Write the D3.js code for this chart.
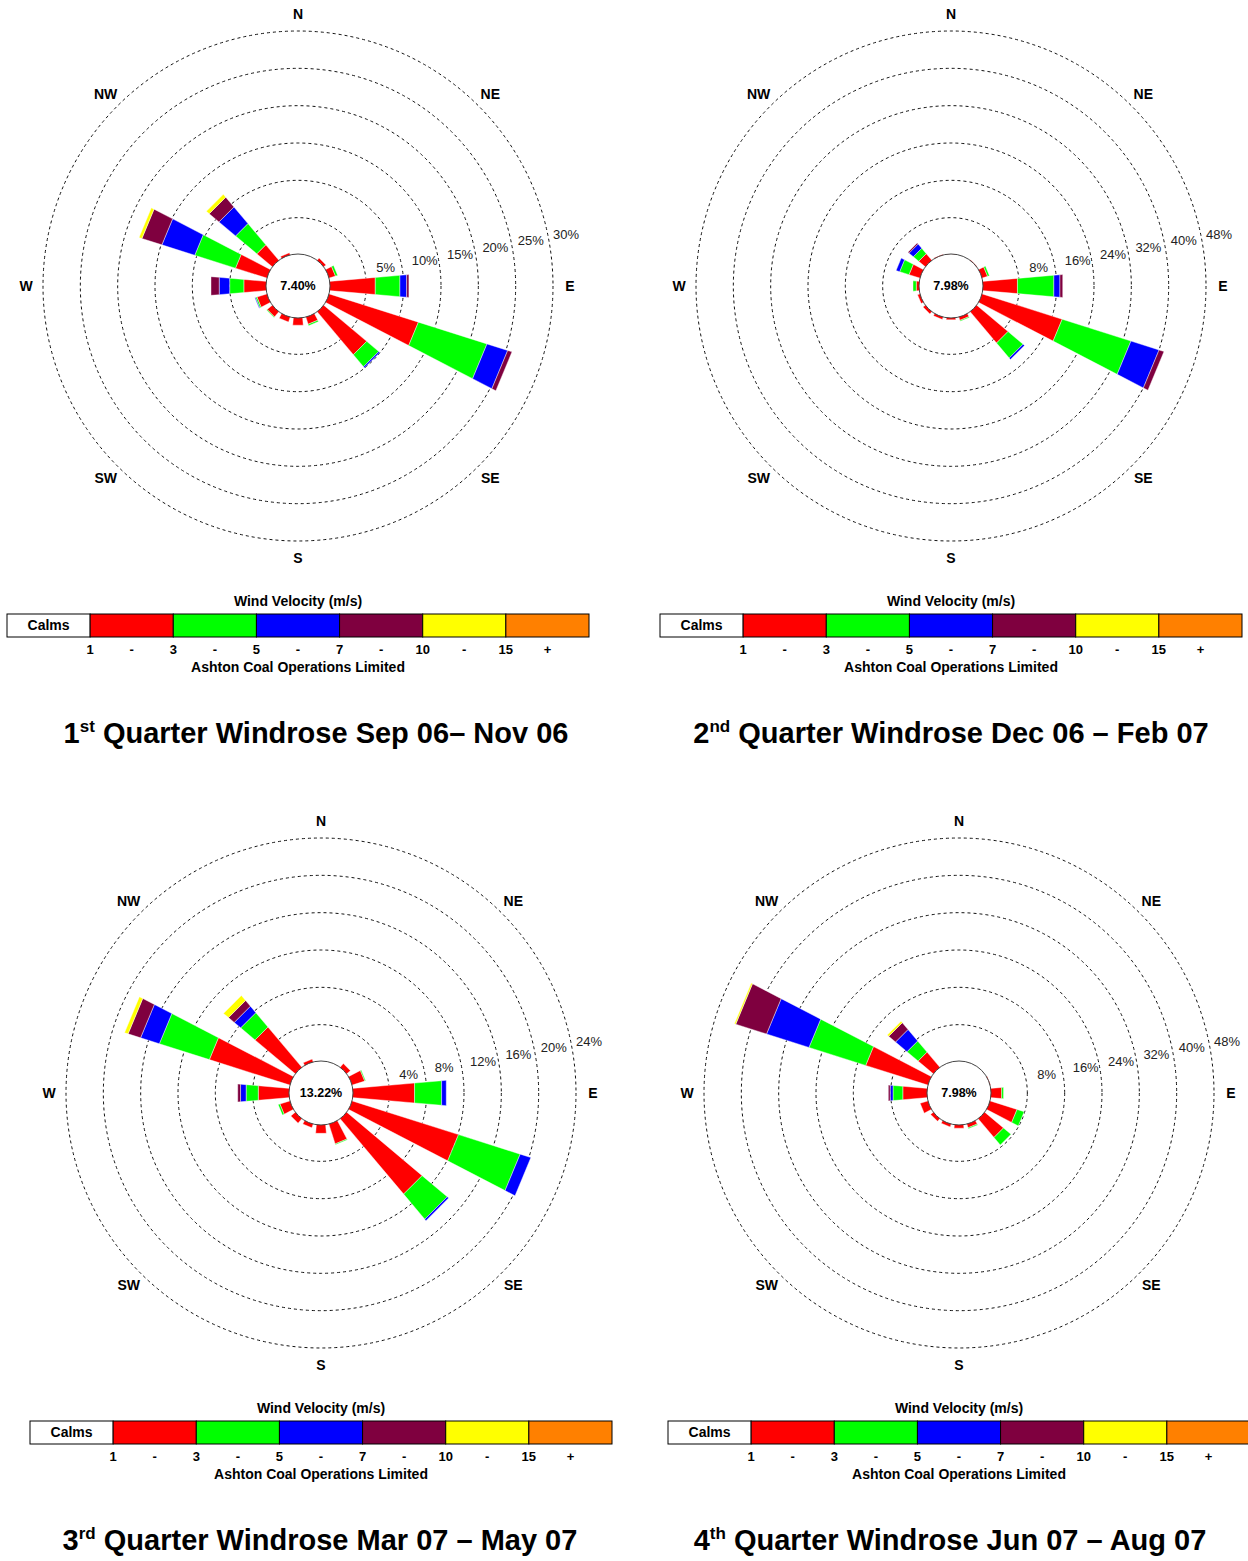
<!DOCTYPE html>
<html>
<head>
<meta charset="utf-8">
<script src="https://cdn.jsdelivr.net/npm/d3@7"></script>
<style>
  body { margin: 0; background: #fff; }
  text { font-family: "Liberation Sans", Arial, sans-serif; }
</style>
</head>
<body>
<div class="container"></div>
<script>
// 16 compass directions, clockwise from north
const directions = ["N","NNE","NE","ENE","E","ESE","SE","SSE","S","SSW","SW","WSW","W","WNW","NW","NNW"]
const compassLabels = ["N","NE","E","SE","S","SW","W","NW"]
const speedBins = ["1-3","3-5","5-7","7-10","10-15","15+"]
const binColors = ["#ff0000","#00ff00","#0000ff","#7f003f","#ffff00","#ff8000"]
const legendTicks = ["1","-","3","-","5","-","7","-","10","-","15","+"]

// % of time per direction, per speed bin (1-3, 3-5, 5-7, 7-10, 10-15, 15+)
const q1Freq = [
  [0],[0],[0.5],[1.0,0.3],[6.2,3.3,0.9,0.3],[12.6,9.6,2.9,0.6],[7.6,2.1,0.2],[1.1,0.2],
  [1.1],[0.8],[1.0,0.1],[1.5,0.2,0.1],[3.1,1.9,1.4,1.1],[4.5,5.7,4.6,2.8,0.4],[2.8,3.7,2.9,1.7,0.5],[0.4]
]
const q2Freq = [
  [0.2],[0],[0.3],[1.4,0.4],[7.6,7.8,1.3,0.6],[18.1,15.4,6.3,1.1],[8.9,4.2,0.4],[0.9,0.2],
  [0.6],[0.7],[0.8],[0.7],[0.8,0.7],[2.6,2.1,0.8],[2.0,1.5,1.2,0.3],[0.3]
]
const q3Freq = [
  [0],[0],[0.6],[1.5,0.1],[6.7,2.9,0.5],[12.0,6.9,1.2],[10.6,3.5,0.2],[2.3,0.1],
  [1.0],[0.5],[0.7],[1.2,0.2],[3.4,1.3,0.6,0.3],[9.1,5.6,2.1,1.4,0.4],[5.7,2.0,0.9,0.8,0.7],[0.4]
]
const q4Freq = [
  [0],[0],[0],[0.3],[2.5,0.4],[6.2,1.6],[5.4,2.1],[1.0,0.2],
  [0.9],[0.8],[0.9],[1.9],[5.4,2.1,0.6,0.4],[14.1,12.7,9.5,6.9,0.3],[4.4,3.1,3.2,1.9,0.4],[0]
]
const calmPct = [7.40, 7.98, 13.22, 7.98]
const ringSteps = [5, 8, 4, 8]
const ordinals = ["1","2","3","4"]
const ordinalSups = ["st","nd","rd","th"]
const titleRest = [" Quarter Windrose Sep 06\u2013 Nov 06"," Quarter Windrose Dec 06 \u2013 Feb 07",
                   " Quarter Windrose Mar 07 \u2013 May 07"," Quarter Windrose Jun 07 \u2013 Aug 07"]

const wd = 1248, ht = 1561
const centers = [[298,286],[951,286],[321,1093],[959,1093]]
const titleX = [316, 951, 320, 950]
const allFreq = [q1Freq, q2Freq, q3Freq, q4Freq]
const r0 = 31, rMax = 255, labelR = 272

const svg = d3.select(".container").append("svg")
  .attr("width", wd).attr("height", ht)

const angle = d3.scaleLinear().domain([0, directions.length]).range([0, 360])
const halfW = r => 0.086 * (r + 22)

function petal(cx, cy, deg, r1, r2) {
  const a = deg * Math.PI / 180
  const ux = Math.sin(a), uy = -Math.cos(a), nx = Math.cos(a), ny = Math.sin(a)
  const h1 = halfW(r1), h2 = halfW(r2)
  return d3.line()([
    [cx + ux*r1 + nx*h1, cy + uy*r1 + ny*h1],
    [cx + ux*r2 + nx*h2, cy + uy*r2 + ny*h2],
    [cx + ux*r2 - nx*h2, cy + uy*r2 - ny*h2],
    [cx + ux*r1 - nx*h1, cy + uy*r1 - ny*h1]
  ]) + "Z"
}

allFreq.forEach((freq, q) => {
  const [cx, cy] = centers[q]
  const step = ringSteps[q]
  const rings = d3.range(1, 7).map(i => i * step)
  const rScale = d3.scaleLinear().domain([0, step * 6]).range([r0, rMax])
  const g = svg.append("g")

  // dashed rings
  g.selectAll("circle.ring").data(rings).enter().append("circle")
    .attr("class", "ring")
    .attr("cx", cx).attr("cy", cy)
    .attr("r", d => rScale(d))
    .attr("fill", "none")
    .attr("stroke", "#111")
    .attr("stroke-width", 1)
    .attr("stroke-dasharray", "3,3")

  // petals
  freq.forEach((row, i) => {
    let cum = 0
    row.forEach((v, b) => {
      if (!v) return
      const a = cum, z = cum + v
      cum = z
      g.append("path")
        .attr("d", petal(cx, cy, angle(i), rScale(a), rScale(z)))
        .attr("fill", binColors[b])
        .attr("stroke", "#fff")
        .attr("stroke-width", 0.6)
        .attr("stroke-opacity", 0.7)
    })
  })

  // ring labels
  g.selectAll("text.rl").data(rings).enter().append("text")
    .attr("x", d => cx + 13.6 + 0.947 * rScale(d))
    .attr("y", d => cy - 6 - 0.18 * rScale(d))
    .attr("dominant-baseline", "central")
    .attr("font-size", 13)
    .attr("fill", "#222")
    .text(d => d + "%")

  // calm circle
  g.append("circle")
    .attr("cx", cx).attr("cy", cy).attr("r", 32)
    .attr("fill", "#fff").attr("stroke", "#444").attr("stroke-width", 1)
  g.append("text")
    .attr("x", cx).attr("y", cy)
    .attr("text-anchor", "middle").attr("dominant-baseline", "central")
    .attr("font-size", 12.5).attr("font-weight", "bold")
    .text(calmPct[q].toFixed(2) + "%")

  // compass labels
  g.selectAll("text.cmp").data(compassLabels).enter().append("text")
    .attr("x", (d, i) => cx + labelR * Math.sin(i * Math.PI / 4))
    .attr("y", (d, i) => cy - labelR * Math.cos(i * Math.PI / 4))
    .attr("text-anchor", "middle").attr("dominant-baseline", "central")
    .attr("font-size", 14).attr("font-weight", "bold")
    .text(d => d)

  // legend
  const lw = 582, cellW = lw / 7, lx = cx - lw / 2, ly = cy + 328
  g.append("text")
    .attr("x", cx).attr("y", cy + 320)
    .attr("text-anchor", "middle")
    .attr("font-size", 14).attr("font-weight", "bold")
    .text("Wind Velocity (m/s)")
  const cells = ["#fff"].concat(binColors)
  g.selectAll("rect.leg").data(cells).enter().append("rect")
    .attr("x", (d, i) => lx + i * cellW).attr("y", ly)
    .attr("width", cellW).attr("height", 23)
    .attr("fill", d => d).attr("stroke", "#000").attr("stroke-width", 1)
  g.append("text")
    .attr("x", lx + cellW / 2).attr("y", ly + 16)
    .attr("text-anchor", "middle")
    .attr("font-size", 14).attr("font-weight", "bold")
    .text("Calms")
  g.selectAll("text.tick").data(legendTicks).enter().append("text")
    .attr("x", (d, i) => lx + cellW + i * cellW / 2)
    .attr("y", ly + 40)
    .attr("text-anchor", "middle")
    .attr("font-size", 13).attr("font-weight", "bold")
    .text(d => d)
  g.append("text")
    .attr("x", cx).attr("y", ly + 58)
    .attr("text-anchor", "middle")
    .attr("font-size", 14).attr("font-weight", "bold")
    .text("Ashton Coal Operations Limited")

  // title
  const t = g.append("text")
    .attr("x", titleX[q]).attr("y", cy + 457)
    .attr("text-anchor", "middle")
    .attr("font-size", 29).attr("font-weight", "bold")
  t.append("tspan").text(ordinals[q])
  t.append("tspan").attr("font-size", 17).attr("dy", -11).text(ordinalSups[q])
  t.append("tspan").attr("dy", 11).text(titleRest[q])
})
</script>
</body>
</html>
